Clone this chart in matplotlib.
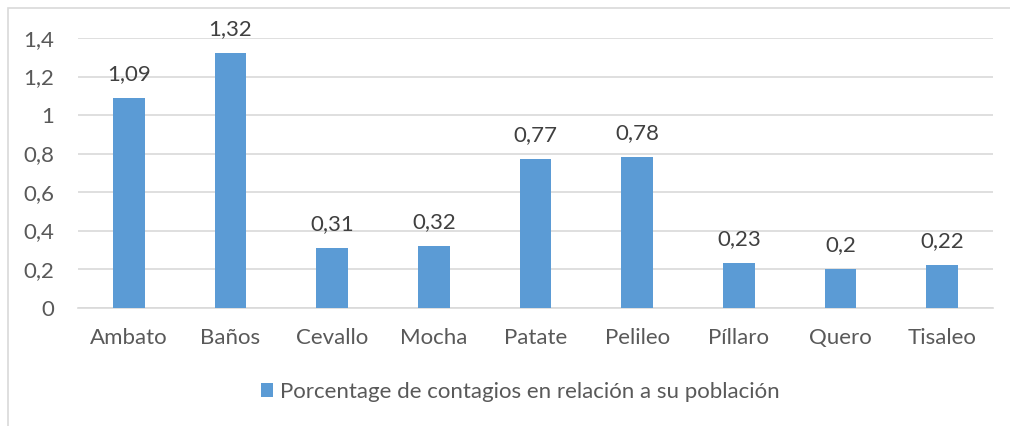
import matplotlib.pyplot as plt
from matplotlib.patches import Rectangle

plt.rcParams['font.family'] = ['Lato', 'DejaVu Sans']

cantones = ['Ambato', 'Baños', 'Cevallo', 'Mocha', 'Patate', 'Pelileo', 'Píllaro', 'Quero', 'Tisaleo']
porcentaje = [1.09, 1.32, 0.31, 0.32, 0.77, 0.78, 0.23, 0.2, 0.22]
etiquetas = ['1,09', '1,32', '0,31', '0,32', '0,77', '0,78', '0,23', '0,2', '0,22']
yticks = [0, 0.2, 0.4, 0.6, 0.8, 1.0, 1.2, 1.4]
ytick_labels = ['0', '0,2', '0,4', '0,6', '0,8', '1', '1,2', '1,4']

bar_color = '#5b9bd5'
text_color = '#595959'
fs = 16

fig = plt.figure(figsize=(10.1, 4.26), dpi=100)
fig.patches.append(Rectangle((8 / 1010, -0.1), 1.2, (426 - 8) / 426 + 0.1,
                             transform=fig.transFigure, fill=False,
                             edgecolor='#d9d9d9', linewidth=1.2))

ax = fig.add_axes([78 / 1010, 1 - 307.5 / 426, 915 / 1010, (307.5 - 38) / 426])
x = range(len(cantones))
bars = ax.bar(x, porcentaje, width=0.31, color=bar_color, zorder=3,
              label='Porcentage de contagios en relación a su población')

for b, lab in zip(bars, etiquetas):
    ax.annotate(lab, (b.get_x() + b.get_width() / 2, b.get_height()),
                xytext=(0, 10), textcoords='offset points', ha='center', va='bottom',
                fontsize=fs, color='#404040')

ax.set_xlim(-0.5, len(cantones) - 0.5)
ax.set_ylim(0, 1.4)
ax.set_yticks(yticks)
ax.set_yticklabels(ytick_labels)
ax.set_xticks(list(x))
ax.set_xticklabels(cantones)
ax.tick_params(axis='both', length=0, labelsize=fs, labelcolor=text_color)
ax.tick_params(axis='y', pad=17)
ax.tick_params(axis='x', pad=15)
ax.grid(axis='y', color='#d9d9d9', linewidth=1.2, zorder=0)
for s in ['top', 'right', 'left']:
    ax.spines[s].set_visible(False)
ax.spines['bottom'].set_color('#d9d9d9')
ax.spines['bottom'].set_linewidth(1.2)

leg = fig.legend(loc='center', bbox_to_anchor=(520 / 1010, 1 - 392 / 426), frameon=False,
                 fontsize=fs, handlelength=0.55, handleheight=0.55, handletextpad=0.3)
for t in leg.get_texts():
    t.set_color(text_color)

fig.savefig('out.png', dpi=100)
